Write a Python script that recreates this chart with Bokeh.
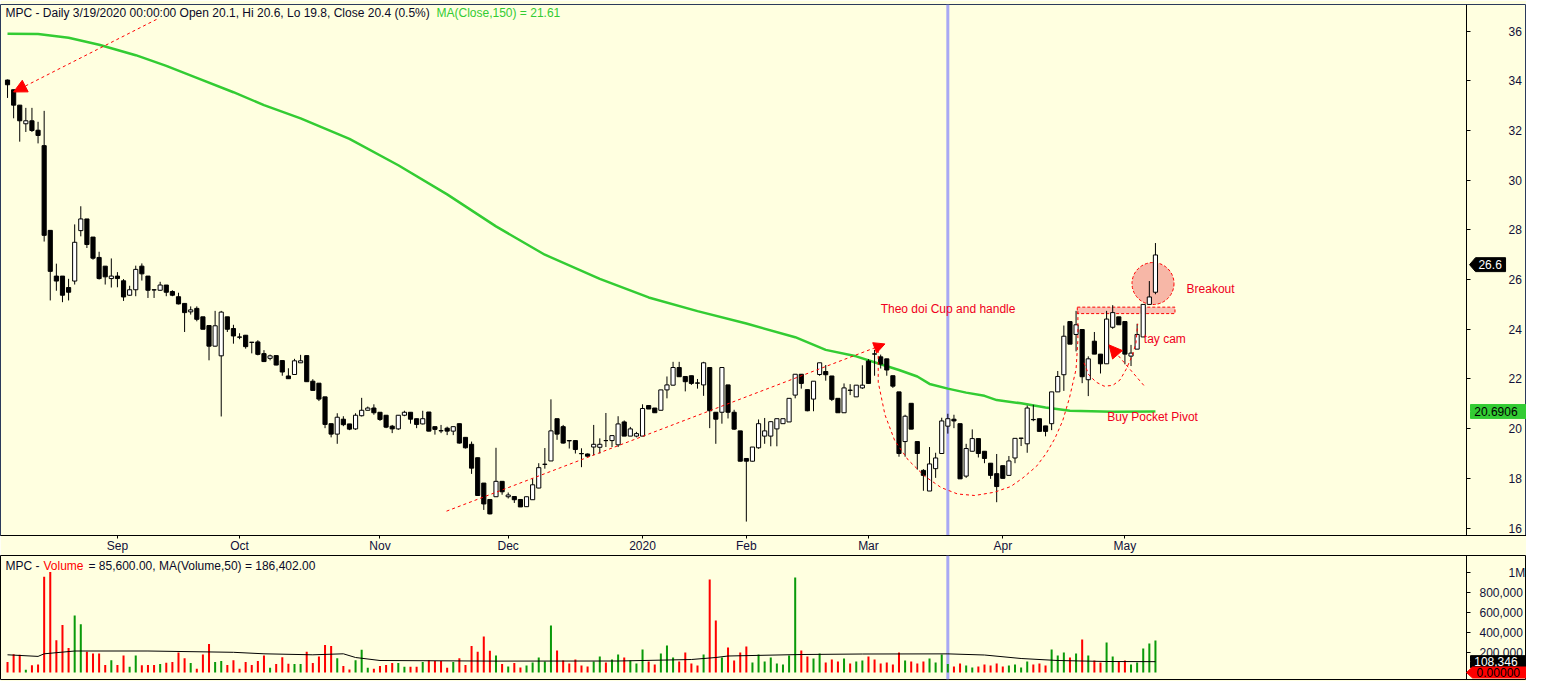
from bokeh.plotting import figure
from bokeh.layouts import column
from bokeh.models import (Range1d, FixedTicker, Span, Label, Arrow, NormalHead, LinearAxis,
                          NumeralTickFormatter, ColumnDataSource)
from bokeh.core.properties import value
from bokeh.embed import file_html
from bokeh.resources import INLINE

# ---------------- data ----------------
opens = [34.03,33.64,33.02,32.27,32.39,32.01,31.39,27.98,26.14,26.14,25.68,25.94,27.97,28.44,27.71,26.89,26.54,26.04,26.14,25.95,
         25.37,25.59,26.54,26.14,25.59,25.57,25.78,25.52,25.31,25.04,24.70,24.84,24.50,24.15,23.32,22.93,24.50,24.03,23.69,23.76,
         23.48,23.49,23.02,22.83,22.94,22.74,22.12,22.18,22.65,22.94,21.91,21.83,21.28,20.20,19.78,20.38,20.19,19.99,20.52,20.74,
         20.83,20.66,20.54,20.10,19.99,20.54,20.66,20.40,20.19,20.67,20.08,19.92,20.02,19.90,20.20,19.65,19.37,18.83,17.81,17.15,
         17.26,17.88,17.26,17.27,17.15,16.86,17.14,17.61,18.56,18.70,20.40,20.08,19.52,19.52,19.00,18.98,19.26,19.25,19.52,19.52,
         19.35,20.27,19.70,19.70,19.70,20.93,20.83,20.74,21.56,21.75,22.46,22.10,22.13,21.84,21.76,22.46,20.66,20.66,21.76,20.66,
         19.91,18.80,18.69,19.23,19.70,19.70,19.99,20.20,20.27,21.35,22.19,21.57,21.19,22.18,22.30,22.12,21.22,20.64,21.55,21.28,
         21.64,22.72,23.01,22.89,22.81,22.13,21.48,19.48,21.02,19.48,18.32,17.49,18.39,19.00,20.10,20.38,20.20,18.09,19.09,19.60,
         19.09,18.61,18.19,18.51,18.12,18.82,19.61,19.39,20.37,20.40,20.11,20.20,21.48,22.17,24.31,23.79,23.99,21.97,23.52,23.00,
         22.61,24.08,24.50,24.31,22.92,23.20,23.69,25.00,25.49]
highs = [34.05,33.64,33.02,32.91,32.91,32.35,32.79,27.98,26.64,26.14,26.03,28.22,28.95,28.44,27.71,27.12,26.54,26.85,26.30,26.02,
         25.75,26.56,26.65,26.14,25.62,25.91,25.78,25.57,25.47,25.04,24.92,24.92,24.50,24.15,24.74,24.74,24.50,24.18,23.84,23.77,
         23.48,23.56,23.16,22.98,22.94,22.74,22.43,22.81,22.97,22.94,21.99,21.83,21.28,20.20,20.62,20.50,20.19,20.62,21.24,20.89,
         20.98,20.66,20.54,20.15,20.55,20.72,20.66,20.40,20.72,20.67,20.08,20.15,20.08,20.08,20.20,19.65,19.48,18.83,17.81,17.15,
         19.23,17.88,17.43,17.27,17.15,17.26,18.00,18.61,19.22,21.18,20.40,20.15,19.52,19.52,19.21,19.00,20.15,19.61,20.63,19.72,
         20.50,20.33,20.07,19.87,20.98,20.95,20.83,21.56,22.10,22.69,22.69,22.10,22.13,22.00,22.69,22.46,20.66,22.46,21.76,20.76,
         19.91,18.80,19.26,20.37,20.43,20.30,20.40,20.40,21.22,22.19,22.19,21.57,21.91,22.65,22.56,22.12,21.22,21.82,21.79,21.75,
         22.55,22.80,23.17,22.98,22.81,22.13,21.48,20.56,21.02,19.48,18.37,19.26,19.03,20.44,20.60,20.56,20.20,19.39,19.97,19.60,
         19.09,18.61,18.98,18.51,18.90,19.61,19.62,20.93,20.96,20.40,20.11,21.48,22.32,24.15,24.31,24.74,24.00,22.91,23.89,23.00,
         24.74,24.97,24.50,24.31,23.37,24.22,25.00,25.94,27.47]
lows = [33.31,32.49,31.55,31.94,31.94,31.48,27.53,25.16,25.55,25.09,25.16,25.80,27.74,27.27,26.80,26.00,25.80,25.68,25.69,25.14,
        25.35,25.33,25.96,25.26,25.26,25.55,25.33,25.33,25.00,23.89,24.59,24.32,24.00,22.75,23.30,20.49,23.89,23.42,23.60,23.22,
        23.03,22.95,22.68,22.75,22.55,22.13,22.00,22.17,22.64,21.89,21.54,21.11,20.02,19.65,19.39,20.10,19.94,19.95,20.49,20.74,
        20.56,20.31,20.02,19.82,19.95,20.50,20.20,20.02,20.17,19.89,19.76,19.82,19.74,19.74,19.40,19.20,18.18,17.30,16.73,16.55,
        17.25,17.34,17.19,17.01,16.85,16.86,17.14,17.60,18.39,18.70,19.55,19.40,19.20,19.00,18.45,18.88,18.93,19.00,19.26,19.26,
        19.26,19.70,19.70,19.65,19.70,20.79,20.64,20.74,21.22,21.74,22.08,21.50,21.76,21.61,21.32,20.02,19.39,20.20,20.41,19.95,
        18.68,16.26,18.68,19.19,19.39,19.29,19.29,20.20,20.27,21.22,21.61,20.70,20.70,22.13,21.93,21.11,20.64,20.64,21.35,21.28,
        21.60,21.80,22.13,22.42,22.13,21.64,18.87,18.87,19.98,18.35,17.50,17.49,18.02,19.00,19.80,20.02,17.98,18.02,19.09,18.84,
        18.61,17.98,17.04,18.00,18.12,18.61,19.30,19.03,20.30,19.89,19.69,19.94,21.48,21.52,23.40,23.11,21.83,21.31,23.00,22.22,
        22.61,24.02,24.18,22.59,22.52,23.20,23.69,25.00,25.41]
closes = [33.84,33.02,32.39,32.39,32.00,31.80,27.78,26.33,25.94,25.37,25.49,27.50,28.44,27.41,26.86,26.04,26.11,26.14,26.04,25.30,
          25.59,26.41,26.23,25.57,25.58,25.78,25.49,25.37,25.02,24.67,24.78,24.40,24.00,23.32,24.14,24.69,24.00,23.73,23.68,23.30,
          23.47,22.99,22.70,22.93,22.56,22.28,22.01,22.73,22.73,21.89,21.54,21.19,20.17,19.78,20.46,20.16,19.98,20.54,20.74,20.83,
          20.64,20.37,20.06,19.99,20.54,20.66,20.38,20.17,20.40,19.90,19.97,19.91,19.90,20.08,19.42,19.23,18.41,17.31,16.97,16.57,
          17.88,17.46,17.33,17.14,16.85,17.26,17.74,18.43,18.57,19.91,19.78,19.42,19.51,19.16,18.99,18.89,19.37,19.37,19.52,19.72,
          20.19,19.70,19.99,19.80,20.81,20.79,20.64,21.56,21.76,22.46,22.09,21.89,21.82,21.83,22.65,20.72,20.38,22.46,20.66,19.98,
          18.69,18.69,19.26,20.20,19.91,20.28,20.40,20.40,21.22,22.19,21.82,20.72,21.91,22.65,22.17,21.18,20.64,21.64,21.54,21.75,
          21.75,21.82,23.00,22.60,22.36,21.71,19.00,20.50,19.98,19.00,18.12,18.58,18.82,20.31,20.40,20.31,17.98,19.20,19.60,19.00,
          18.80,18.12,17.67,18.00,18.70,19.61,19.62,20.83,20.36,19.89,19.89,21.48,22.10,23.72,23.40,24.18,22.09,22.81,23.00,22.61,
          24.41,24.67,24.18,23.00,23.04,23.79,25.00,25.30,26.99]
volumes_k = [104,183,177,28,73,79,957,1005,322,474,246,569,483,208,190,190,76,123,76,171,
             57,171,73,76,76,85,98,104,199,142,95,38,180,284,104,114,76,123,38,104,
             76,114,171,47,85,152,88,85,85,208,95,161,275,265,142,66,31,123,227,47,
             38,66,76,95,95,57,57,57,104,123,114,114,47,104,142,76,265,208,360,218,
             171,85,60,95,50,70,100,150,110,470,220,120,90,130,70,60,110,160,100,130,
             180,150,120,90,230,110,80,190,270,150,110,200,90,70,180,930,520,150,250,120,
             200,260,100,180,110,150,90,80,170,950,220,160,140,190,100,130,110,140,90,110,
             120,160,130,90,100,80,200,120,110,90,110,140,100,180,85.6,60,90,70,50,60,
             80,70,90,60,70,80,50,110,80,90,70,230,170,200,150,190,330,170,120,100,
             300,160,110,120,80,100,240,290,320]

# MA(Close,150) read at selected bars
ma_idx = [0,5,10,15,21,26,31,37,42,48,56,64,72,80,88,97,105,113,121,129,134,139,143,146,149,151,154,157,160,162,166,170,174,181,188]
ma_val = [35.89,35.88,35.73,35.45,35.03,34.60,34.12,33.54,33.02,32.49,31.66,30.60,29.43,28.14,27.00,26.03,25.28,24.73,24.23,23.68,
          23.17,22.91,22.59,22.36,22.10,21.80,21.61,21.45,21.32,21.15,21.02,20.85,20.72,20.68,20.69]
# MA(Volume,50) read at selected bars (thousands)
mav_idx = [0,5,6,11,23,37,42,50,55,57,61,80,100,112,116,118,130,140,154,160,166,172,180,188]
mav_val = [177,161,187,215,215,202,187,177,187,150,120,114,115,130,150,165,180,185,186.4,175,140,120,110,108.3]

month_idx = [18, 38, 61, 82, 104, 121, 141, 163, 183]
month_lbl = ["Sep", "Oct", "Nov", "Dec", "2020", "Feb", "Mar", "Apr", "May"]
price_ticks = [16, 18, 20, 22, 24, 26, 28, 30, 32, 34, 36]
vol_ticks = [200000, 400000, 600000, 800000]
vol_top_tick = [1000000]
cursor_idx = 154          # 3/19/2020
last_price = 26.6
ma_last = 20.6906
vol_ma_last = 108346

# drawings on the chart (in bar-index / price units)
cup_x = [142.6,142.6,143.7,145.3,147.5,150.2,152.9,155.6,158.4,161.6,164.3,166.3,168.5,170.1,171.5,172.8,173.9,175.0,175.3,175.3]
cup_y = [23.17,21.87,20.56,19.52,18.74,18.09,17.63,17.37,17.31,17.44,17.67,18.02,18.48,19.00,19.59,20.31,21.22,22.39,23.56,24.74]
handle_x = [176.3,177.1,178.3,179.6,181.0,182.2,183.2,184.2,184.8,185.1]
handle_y = [22.65,22.16,21.87,21.71,21.74,21.96,22.39,22.94,23.43,24.22]
notes = ["Theo doi Cup and handle", "Breakout", "tay cam", "Buy Pocket Pivot"]
notes_x = [143.0, 193.1, 186.1, 180.1]
notes_y = [24.81, 25.64, 23.60, 20.47]

# ---------------- styling ----------------
BG = "#FFFFE0"
FONT = "Liberation Sans"
W = 1526
AX = 238.94            # bar-index where the price scale sits
XR = (-1.15, 248.77)
n = len(closes)
assert len(opens) == len(highs) == len(lows) == n == len(volumes_k)
idx = list(range(n))
is_up = [c > o for o, c in zip(opens, closes)]

src = ColumnDataSource(dict(
    x=idx, o=opens, h=highs, l=lows, c=closes,
    top=[max(o, c) for o, c in zip(opens, closes)],
    bot=[min(o, c) for o, c in zip(opens, closes)],
    fill=["white" if u else "black" for u in is_up],
    vol=[v * 1000 for v in volumes_k],
    vcol=["#0A9A0A" if u else "#FF0000" for u in is_up],
))

xr = Range1d(*XR)


def tag(fig, x_tip, x_left, x_right, yc, half, fill, label, txt_color, x_text):
    fig.patch([x_tip, x_left, x_right, x_right, x_left],
              [yc, yc + half, yc + half, yc - half, yc - half],
              fill_color=fill, line_color=fill, level="overlay")
    fig.text(x=[x_text], y=[yc], text=[label], text_font=value(FONT),
             text_font_size=value("12px"), text_color=txt_color,
             text_baseline="middle", text_align="left", level="overlay")


def style_yaxis(ax, standoff):
    ax.major_tick_in = 0
    ax.major_tick_out = 4
    ax.minor_tick_line_color = None
    ax.major_label_standoff = standoff
    ax.major_label_text_font = FONT
    ax.major_label_text_font_size = "12px"
    ax.major_label_text_color = "#10103A"
    ax.axis_line_color = "black"
    ax.fixed_location = AX


p = figure(width=W, height=555, x_range=xr, y_range=Range1d(15.7, 37.07),
           output_backend="svg", toolbar_location=None, y_axis_location="right",
           min_border_left=0, min_border_right=0, min_border_top=4, min_border_bottom=17,
           background_fill_color=BG, border_fill_color=BG,
           outline_line_color="#2B3A5C", outline_line_width=1)
p.grid.visible = False

p.xaxis.ticker = FixedTicker(ticks=month_idx)
p.xaxis.major_label_overrides = {i: s for i, s in zip(month_idx, month_lbl)}
p.xaxis.major_tick_in = 0
p.xaxis.major_tick_out = 3
p.xaxis.minor_tick_line_color = None
p.xaxis.major_label_standoff = 0
p.xaxis.major_label_text_align = "left"
p.xaxis.major_label_text_font = FONT
p.xaxis.major_label_text_font_size = "12px"
p.xaxis.major_label_text_color = "#10103A"
p.xaxis.axis_line_color = "black"

p.yaxis.ticker = FixedTicker(ticks=price_ticks)
style_yaxis(p.yaxis[0], 38)

p.add_layout(Span(location=cursor_idx, dimension="height", line_color="#A8A8F4",
                  line_width=3, level="underlay"))

# handle box and breakout circle
p.quad(left=[175.2], right=[191.2], bottom=[24.63], top=[24.89],
       fill_color="#F9C2B4", line_color="red", line_dash="3 2", line_width=1)
p.scatter(x=[187.6], y=[25.84], size=42, marker="circle", fill_color="#F7B7A7",
          line_color="red", line_dash="3 2", line_width=1)

# moving average
p.line(ma_idx, ma_val, line_color="#33CC33", line_width=2.5)

# candles
p.segment(x0="x", y0="h", x1="x", y1="l", source=src, line_color="black", line_width=1)
p.vbar(x="x", width=0.68, top="top", bottom="bot", source=src,
       fill_color="fill", line_color="black", line_width=1)

# drawings
p.line(cup_x, cup_y, line_color="red", line_dash="3 3", line_width=1)
p.line(handle_x, handle_y, line_color="red", line_dash="3 3", line_width=1)
p.add_layout(Arrow(end=NormalHead(size=13, fill_color="red", line_color="red"),
                   x_start=24.4, y_start=36.47, x_end=1.0, y_end=33.55,
                   line_color="red", line_dash="3 3", line_width=1))
p.add_layout(Arrow(end=NormalHead(size=11, fill_color="red", line_color="red"),
                   x_start=71.9, y_start=16.68, x_end=143.7, y_end=23.41,
                   line_color="red", line_dash="3 3", line_width=1))
p.add_layout(Arrow(end=NormalHead(size=13, fill_color="red", line_color="red"),
                   x_start=186.1, y_start=21.74, x_end=180.4, y_end=23.37,
                   line_color="red", line_dash="3 3", line_width=1))
p.text(x=notes_x, y=notes_y, text=notes, text_font=value(FONT), text_font_size=value("12px"),
       text_color="#F00020", text_baseline="middle", text_align="left")

# header
p.add_layout(Label(x=5, x_units="screen", y=36.72,
                   text="MPC - Daily 3/19/2020 00:00:00 Open 20.1, Hi 20.6, Lo 19.8, Close 20.4 (0.5%)",
                   text_font=FONT, text_font_size="12px", text_color="#0A0A28", text_baseline="middle"))
p.add_layout(Label(x=436, x_units="screen", y=36.72, text="MA(Close,150) = 21.61",
                   text_font=FONT, text_font_size="12px", text_color="#33CC33", text_baseline="middle"))

# value tags on the price scale
tag(p, 239.44, 240.42, 245.34, last_price, 0.28, "black", "26.6", "white", 240.9)
tag(p, 239.6, 239.6, 248.77, ma_last, 0.28, "#33CC33", "20.6906", "black", 240.21)

# ---------------- volume panel ----------------
p2 = figure(width=W, height=126, x_range=xr, y_range=Range1d(-70000, 1170000),
            output_backend="svg", toolbar_location=None, y_axis_location="right",
            min_border_left=0, min_border_right=0, min_border_top=0, min_border_bottom=2,
            background_fill_color=BG, border_fill_color=BG,
            outline_line_color="black", outline_line_width=1)
p2.grid.visible = False
p2.xaxis.visible = False
p2.yaxis.ticker = FixedTicker(ticks=vol_ticks)
p2.yaxis.formatter = NumeralTickFormatter(format="0,0")
style_yaxis(p2.yaxis[0], 9)
ax_top = LinearAxis(ticker=FixedTicker(ticks=vol_top_tick), major_label_overrides={1000000: "1M"})
style_yaxis(ax_top, 38)
p2.add_layout(ax_top, "right")

p2.add_layout(Span(location=cursor_idx, dimension="height", line_color="#A8A8F4",
                   line_width=3, level="underlay"))
p2.vbar(x="x", top="vol", bottom=0, width=0.33, source=src, fill_color="vcol", line_color=None)
p2.line(mav_idx, [v * 1000 for v in mav_val], line_color="black", line_width=1)

p2.add_layout(Label(x=5, x_units="screen", y=1070000, text="MPC -", text_font=FONT,
                    text_font_size="12px", text_color="#0A0A28", text_baseline="middle"))
p2.add_layout(Label(x=43, x_units="screen", y=1070000, text="Volume", text_font=FONT,
                    text_font_size="12px", text_color="#FF0000", text_baseline="middle"))
p2.add_layout(Label(x=88, x_units="screen", y=1070000,
                    text="= 85,600.00, MA(Volume,50) = 186,402.00", text_font=FONT,
                    text_font_size="12px", text_color="#0A0A28", text_baseline="middle"))

tag(p2, 239.6, 239.6, 248.77, vol_ma_last, 60000, "black", "108,346", "white", 240.21)
tag(p2, 238.94, 239.93, 248.77, 0, 55000, "#FF0000", "0.00000", "black", 240.6)

layout = column(p, p2, spacing=0)
open("out.html", "w").write(file_html(layout, INLINE))
